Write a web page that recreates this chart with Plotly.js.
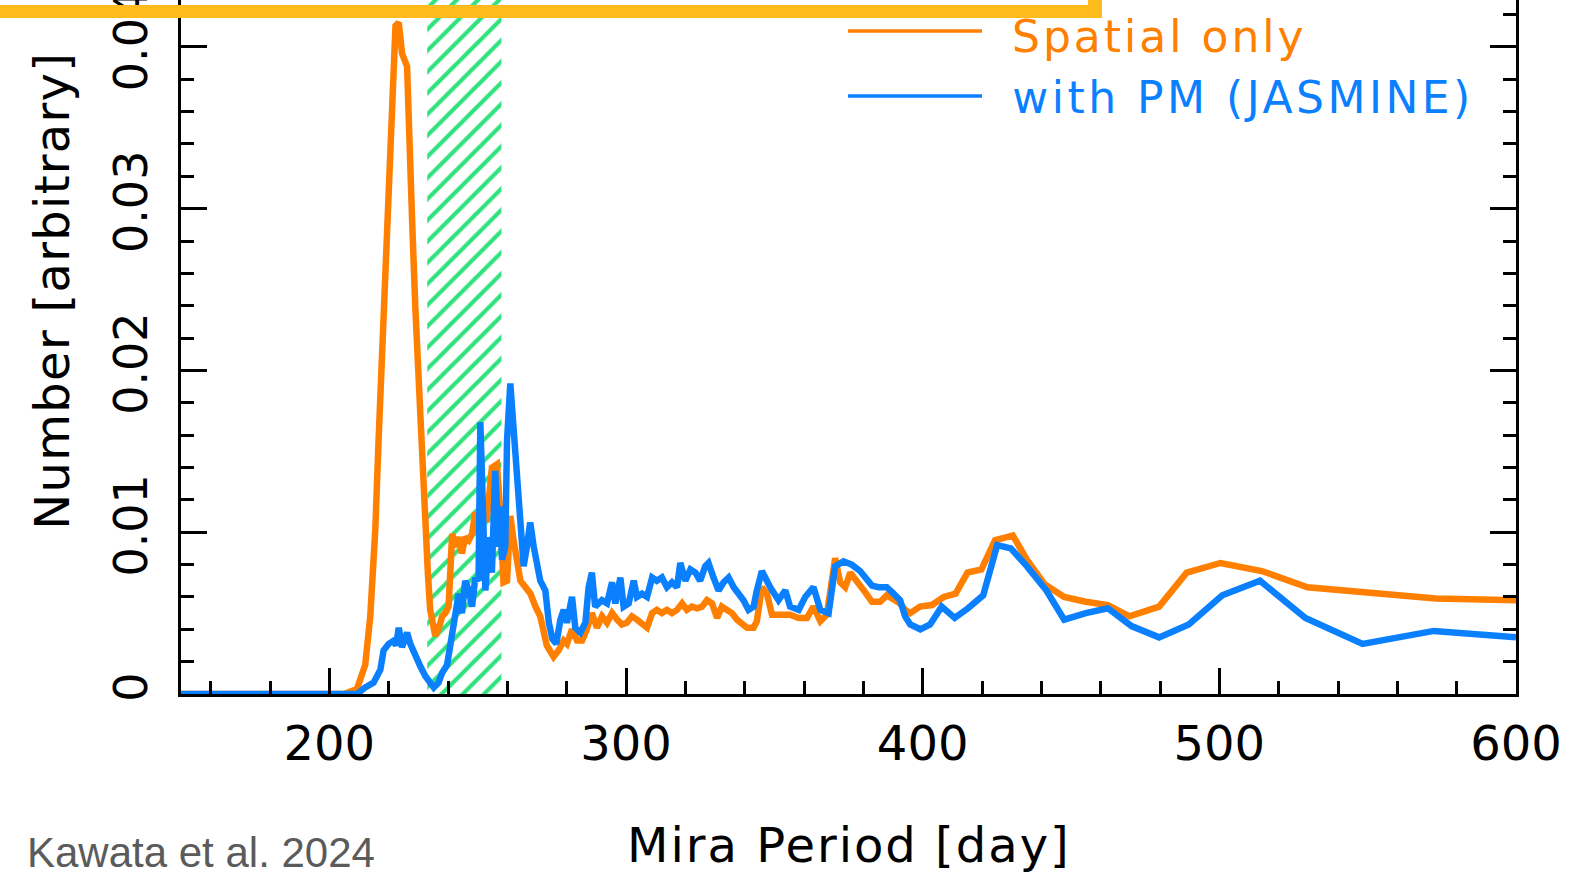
<!DOCTYPE html>
<html>
<head>
<meta charset="utf-8">
<script src="https://cdn.plot.ly/plotly-3.0.1.min.js"></script>
<style>
  html, body { margin: 0; padding: 0; background: #ffffff; }
  #chart { width: 1588px; height: 876px; }
</style>
</head>
<body>
<div id="chart"></div>
<script>
// Mira period distribution: spatial selection only vs. with proper motions
const seriesNames = ['Spatial only', 'with PM (JASMINE)'];

const spatialX = [150, 205, 209.3, 212.1, 213.8, 215.5, 216.6, 217.8, 218.9, 220.0, 221.1, 222.3, 223.4, 224.5, 226.2,
  226.7, 227.9, 229.0, 230.1, 231.2, 232.3, 233.2, 234.0, 234.8, 235.7, 236.8, 238.0, 239.1, 240.2, 241.4, 242.5, 243.6,
  244.7, 245.8, 247.0, 248.1, 249.2, 250.9, 253.1, 254.8, 256.5, 257.6, 258.7, 259.9, 261.0, 262.1, 263.3, 264.4, 266.1,
  267.8, 269.5, 271.1, 273.3, 275.6, 277.3, 279.0, 280.1, 281.8, 283.5, 285.2, 286.8, 288.5, 290.2, 291.9, 293.6, 295.3,
  297.0, 298.6, 300.3, 302.0, 303.7, 305.4, 307.1, 308.8, 310.4, 312.1, 313.8, 315.5, 317.2, 318.9, 320.5, 322.2, 323.9,
  325.6, 327.3, 329.0, 330.7, 332.3, 334.0, 335.7, 337.4, 339.1, 340.8, 343.0, 344.1, 345.8, 347.5, 349.2, 351.9, 355.3,
  358.2, 361.0, 363.2, 365.5, 367.7, 370.5, 372.2, 373.9, 375.6, 378.4, 380.6, 382.9, 385.7, 387.9, 390.2, 392.4, 394.1,
  395.8, 399.1, 403.1, 407.1, 411.1, 415.1, 419.8, 424.4, 430.4, 435.1, 441.0, 447.7, 455.0, 462.4, 469.7, 479.7, 489.0,
  500.4, 514.3, 529.7, 549.0, 573.0, 600];
const spatialY = [0, 0, 0.0003, 0.0018, 0.0048, 0.0102, 0.0157, 0.0211, 0.0276, 0.0326, 0.0375, 0.0413, 0.0415, 0.0396, 0.0388,
  0.0347, 0.0293, 0.0238, 0.0190, 0.0140, 0.0105, 0.0075, 0.0052, 0.0041, 0.0036, 0.0040, 0.0048, 0.0050, 0.0054, 0.0099, 0.0091, 0.0097,
  0.0087, 0.0097, 0.0095, 0.0099, 0.0112, 0.0108, 0.0108, 0.0140, 0.0142, 0.0112, 0.0069, 0.0070, 0.0110, 0.0095, 0.0079, 0.0070, 0.0066,
  0.0062, 0.0054, 0.0048, 0.0030, 0.0023, 0.0027, 0.0033, 0.0031, 0.0040, 0.0033, 0.0033, 0.0040, 0.0050, 0.0041, 0.0048, 0.0044, 0.0050,
  0.0046, 0.0043, 0.0044, 0.0048, 0.0046, 0.0044, 0.0041, 0.0050, 0.0052, 0.0050, 0.0052, 0.0050, 0.0052, 0.0056, 0.0052, 0.0054, 0.0053,
  0.0054, 0.0058, 0.0056, 0.0047, 0.0054, 0.0052, 0.0050, 0.0046, 0.0044, 0.0041, 0.0041, 0.0045, 0.0066, 0.0062, 0.0049, 0.0049, 0.0049,
  0.0047, 0.0047, 0.0054, 0.0045, 0.0049, 0.0084, 0.0069, 0.0066, 0.0075, 0.0069, 0.0063, 0.0057, 0.0057, 0.0061, 0.0059, 0.0056, 0.0052,
  0.0050, 0.0054, 0.0055, 0.0060, 0.0062, 0.0075, 0.0077, 0.0095, 0.0098, 0.0083, 0.0068, 0.0060, 0.0057, 0.0055, 0.0048, 0.0054, 0.0075,
  0.0081, 0.0076, 0.0066, 0.0063, 0.0059, 0.0058];

const pmX = [150, 209.3, 212.1, 214.9, 217.2, 218.3, 220.0, 221.7, 222.5, 223.4, 224.5, 225.3, 226.2, 227.3, 229.0, 230.7,
  232.4, 233.5, 235.2, 236.8, 238.0, 239.7, 241.4, 242.5, 243.6, 244.7, 245.8, 247.0, 248.1, 249.2, 250.3, 250.9, 252.0,
  252.6, 253.7, 254.8, 255.9, 257.1, 257.6, 258.2, 259.3, 259.9, 261.0, 262.1, 263.3, 264.4, 265.5, 266.6, 267.7, 268.9,
  270.0, 271.1, 272.8, 274.0, 275.2, 276.5, 277.9, 279.0, 280.1, 281.8, 282.9, 284.6, 286.3, 287.4, 288.5, 289.6, 291.9,
  293.6, 295.3, 296.4, 298.1, 299.2, 300.9, 302.6, 303.7, 305.4, 307.1, 308.8, 310.4, 312.1, 313.8, 315.5, 317.2, 318.3,
  320.0, 321.7, 323.4, 325.0, 326.7, 327.8, 329.5, 331.2, 332.9, 334.6, 336.3, 337.9, 339.6, 341.3, 343.0, 344.1, 345.8,
  348.6, 351.4, 353.7, 355.3, 358.2, 360.4, 363.2, 365.5, 368.3, 370.5, 373.3, 376.1, 378.9, 381.2, 382.9, 385.1, 387.9,
  390.2, 392.4, 394.1, 395.8, 399.2, 402.5, 406.4, 410.8, 415.3, 420.4, 425.1, 429.7, 435.1, 441.7, 447.7, 455.0, 462.4,
  470.4, 479.7, 489.7, 501.0, 513.7, 529.0, 548.3, 572.3, 600];
const pmY = [0, 0, 0.0004, 0.0007, 0.0015, 0.0027, 0.0031, 0.0033, 0.0030, 0.0041, 0.0029, 0.0033, 0.0038, 0.0031, 0.0023, 0.0017,
  0.0011, 0.0008, 0.0004, 0.0007, 0.0013, 0.0018, 0.0040, 0.0050, 0.0062, 0.0050, 0.0070, 0.0064, 0.0054, 0.0072, 0.0070, 0.0168, 0.0079,
  0.0064, 0.0097, 0.0075, 0.0138, 0.0091, 0.0116, 0.0083, 0.0091, 0.0157, 0.0192, 0.0163, 0.0126, 0.0108, 0.0079, 0.0091, 0.0106, 0.0091,
  0.0079, 0.0070, 0.0064, 0.0044, 0.0034, 0.0031, 0.0046, 0.0052, 0.0044, 0.0060, 0.0041, 0.0038, 0.0044, 0.0066, 0.0075, 0.0054, 0.0058,
  0.0056, 0.0069, 0.0056, 0.0072, 0.0054, 0.0056, 0.0070, 0.0060, 0.0062, 0.0060, 0.0072, 0.0070, 0.0072, 0.0066, 0.0069, 0.0066, 0.0081,
  0.0070, 0.0077, 0.0075, 0.0070, 0.0079, 0.0081, 0.0072, 0.0064, 0.0069, 0.0072, 0.0066, 0.0062, 0.0058, 0.0052, 0.0054, 0.0064, 0.0076,
  0.0066, 0.0058, 0.0064, 0.0054, 0.0052, 0.0060, 0.0066, 0.0052, 0.0050, 0.0079, 0.0082, 0.0080, 0.0076, 0.0070, 0.0067, 0.0066, 0.0066,
  0.0062, 0.0058, 0.0048, 0.0043, 0.0040, 0.0043, 0.0054, 0.0047, 0.0053, 0.0061, 0.0092, 0.0090, 0.0079, 0.0064, 0.0046, 0.0050, 0.0053,
  0.0042, 0.0035, 0.0043, 0.0061, 0.0070, 0.0047, 0.0031, 0.0039, 0.0035];

// Hatched period window (days)
const hatchBand = [233, 258];

const xTickVals = [200, 300, 400, 500, 600];
const yTickVals = [0, 0.01, 0.02, 0.03, 0.04];
const yTickText = ['0', '0.01', '0.02', '0.03', '0.04'];

const xRange = [150, 600];
const yRange = [0, 0.0429];

const ORANGE = '#ff7f00';
const BLUE = '#0a80ff';
const GREEN = '#2fe27c';
const FRAME = '#ffbb1c';
const FONT = 'DejaVu Sans, sans-serif';

// plot area in pixels: left 181, right 1516, top 0, bottom 694
const PL = 181, PR = 1516, PT = 0, PB = 694;
const fx = p => (p - PL) / (PR - PL);
const fy = p => (PB - p) / (PB - PT);

const traces = [
  {
    x: [hatchBand[0], hatchBand[1], hatchBand[1], hatchBand[0], hatchBand[0]],
    y: [yRange[0], yRange[0], yRange[1] * 1.2, yRange[1] * 1.2, yRange[0]],
    mode: 'lines', fill: 'toself', line: {width: 0, color: 'rgba(0,0,0,0)'},
    fillcolor: 'rgba(255,255,255,0)',
    fillpattern: {shape: '/', fgcolor: GREEN, bgcolor: 'rgba(255,255,255,0)', size: 15, solidity: 0.28},
    hoverinfo: 'skip', showlegend: false
  },
  {x: spatialX, y: spatialY, mode: 'lines', name: seriesNames[0],
   line: {color: ORANGE, width: 6.5, shape: 'linear'}, showlegend: false},
  {x: pmX, y: pmY, mode: 'lines', name: seriesNames[1],
   line: {color: BLUE, width: 6.5, shape: 'linear'}, showlegend: false}
];

const tickStyle = {ticks: 'inside', ticklen: 26, tickwidth: 3, tickcolor: '#000'};
const minorStyle = {ticks: 'inside', ticklen: 13, tickwidth: 3, tickcolor: '#000', showgrid: false};

// letter spacing (px) applied to each annotation after drawing
const annSpacing = [3, 3.5, 1.3, 2, 0];

const layout = {
  width: 1588, height: 876,
  margin: {l: PL, r: 1588 - PR, t: PT, b: 876 - PB, pad: 0},
  paper_bgcolor: '#ffffff', plot_bgcolor: '#ffffff',
  showlegend: false,
  xaxis: Object.assign({
    range: xRange, tickmode: 'array', tickvals: xTickVals,
    showline: true, linewidth: 3, linecolor: '#000', mirror: false,
    showgrid: false, zeroline: false,
    tickfont: {family: FONT, size: 48, color: '#000'},
    ticklabelstandoff: 5,
    ticklabeloverflow: 'allow',
    minor: Object.assign({dtick: 20, tick0: 0}, minorStyle)
  }, tickStyle),
  yaxis: Object.assign({
    range: yRange, tickmode: 'array', tickvals: yTickVals, ticktext: yTickText,
    tickangle: -90,
    showline: true, linewidth: 3, linecolor: '#000', mirror: 'ticks',
    showgrid: false, zeroline: false,
    tickfont: {family: FONT, size: 46, color: '#000'},
    ticklabelstandoff: 13,
    ticklabeloverflow: 'allow',
    minor: Object.assign({dtick: 0.002, tick0: 0}, minorStyle)
  }, tickStyle),
  shapes: [
    // legend sample lines
    {type: 'line', xref: 'paper', yref: 'paper', x0: fx(848), x1: fx(982), y0: fy(31), y1: fy(31),
     line: {color: ORANGE, width: 3.5}},
    {type: 'line', xref: 'paper', yref: 'paper', x0: fx(848), x1: fx(982), y0: fy(96), y1: fy(96),
     line: {color: BLUE, width: 3.5}},
    // highlight frame corner along the top
    {type: 'rect', xref: 'paper', yref: 'paper', layer: 'above',
     x0: fx(-10), x1: fx(1102), y0: fy(18), y1: fy(5), fillcolor: FRAME, line: {width: 0}},
    {type: 'rect', xref: 'paper', yref: 'paper', layer: 'above',
     x0: fx(1088), x1: fx(1102), y0: fy(18), y1: fy(-10), fillcolor: FRAME, line: {width: 0}}
  ],
  annotations: [
    {text: seriesNames[0], xref: 'paper', yref: 'paper', x: fx(1010 + 18), y: fy(36), xanchor: 'left', yanchor: 'middle',
     showarrow: false, font: {family: FONT, size: 44, color: ORANGE}},
    {text: seriesNames[1], xref: 'paper', yref: 'paper', x: fx(1010 + 30), y: fy(97), xanchor: 'left', yanchor: 'middle',
     showarrow: false, font: {family: FONT, size: 44, color: BLUE}},
    {text: 'Number [arbitrary]', xref: 'paper', yref: 'paper', x: fx(52), y: fy(291), textangle: -90,
     xanchor: 'center', yanchor: 'middle', showarrow: false, font: {family: FONT, size: 48, color: '#000'}},
    {text: 'Mira Period [day]', xref: 'paper', yref: 'paper', x: 0.5, y: fy(845),
     xanchor: 'center', yanchor: 'middle', showarrow: false, font: {family: FONT, size: 48, color: '#000'}},
    {text: 'Kawata et al. 2024', xref: 'paper', yref: 'paper', x: fx(25), y: fy(852),
     xanchor: 'left', yanchor: 'middle', showarrow: false,
     font: {family: 'Liberation Sans, Arial, sans-serif', size: 42, color: '#5b5b5b'}}
  ]
};

Plotly.newPlot('chart', traces, layout, {displayModeBar: false, staticPlot: true}).then(gd => {
  gd.querySelectorAll('.annotation-text').forEach((t, i) => {
    if (annSpacing[i]) t.style.letterSpacing = annSpacing[i] + 'px';
  });
});
</script>
</body>
</html>
